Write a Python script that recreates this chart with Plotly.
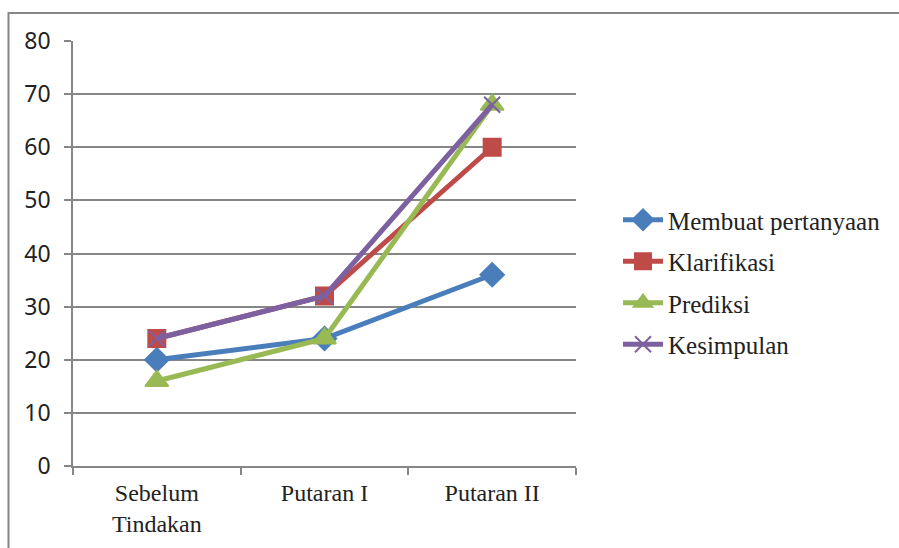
import plotly.graph_objects as go

# Categories and series values
categories = ["Sebelum<br>Tindakan", "Putaran I", "Putaran II"]
membuat_pertanyaan = [20, 24, 36]
klarifikasi = [24, 32, 60]
prediksi = [16, 24, 68]
kesimpulan = [24, 32, 68]

y_ticks = [0, 10, 20, 30, 40, 50, 60, 70, 80]

series = [
    ("Membuat pertanyaan", membuat_pertanyaan, "#4A7EBB", "diamond", 18),
    ("Klarifikasi", klarifikasi, "#BE4B48", "square", 17),
    ("Prediksi", prediksi, "#98B954", "triangle-up", 20),
    ("Kesimpulan", kesimpulan, "#7D60A0", "x-thin-open", 16),
]

fig = go.Figure()
for i, (name, vals, color, symbol, size) in enumerate(series):
    fig.add_trace(go.Scatter(
        x=categories, y=vals, name=name, mode="lines+markers",
        legendgroup=f"g{i}",
        line=dict(color=color, width=5),
        marker=dict(symbol=symbol, size=size, color=color,
                    line=dict(color=color, width=2)),
    ))

W, H = 899, 548
L, T, R, B = 73, 41, 323, 82
pw, ph = W - L - R, H - T - B

def px_x(p):
    return (p - L) / pw

def px_y(p):
    return (H - B - p) / ph

grid = "#868686"
serif = "Liberation Serif, Times New Roman, serif"
fig.update_layout(
    width=W, height=H,
    margin=dict(l=L, r=R, t=T, b=B),
    paper_bgcolor="white", plot_bgcolor="white",
    showlegend=True,
    legend=dict(
        x=px_x(618), y=px_y(197), xanchor="left", yanchor="top",
        font=dict(family=serif, size=25, color="#222222"),
        tracegroupgap=6, itemwidth=40,
        bgcolor="rgba(0,0,0,0)",
    ),
    xaxis=dict(
        type="category", range=[-0.5, 2.5],
        tickson="boundaries", ticks="outside", ticklen=7,
        tickcolor=grid, tickwidth=1.5,
        showline=True, linecolor=grid, linewidth=1.5,
        showgrid=False,
        tickfont=dict(family=serif, size=24, color="#222222"),
        ticklabelstandoff=4,
    ),
    yaxis=dict(
        range=[0, 80], tickvals=y_ticks,
        ticks="outside", ticklen=7, tickcolor=grid, tickwidth=1.5,
        showline=True, linecolor=grid, linewidth=1.5,
        showgrid=True, gridcolor=grid, gridwidth=1.5,
        zeroline=False,
        tickfont=dict(family="Noto Sans", size=23, color="#222222"),
        ticklabelstandoff=9,
    ),
    shapes=[dict(
        type="rect", xref="paper", yref="paper",
        x0=px_x(8.5), x1=px_x(910), y0=px_y(560), y1=px_y(13),
        line=dict(color=grid, width=2), fillcolor="rgba(0,0,0,0)",
        layer="below",
    )],
)

fig.write_html("out.html")
